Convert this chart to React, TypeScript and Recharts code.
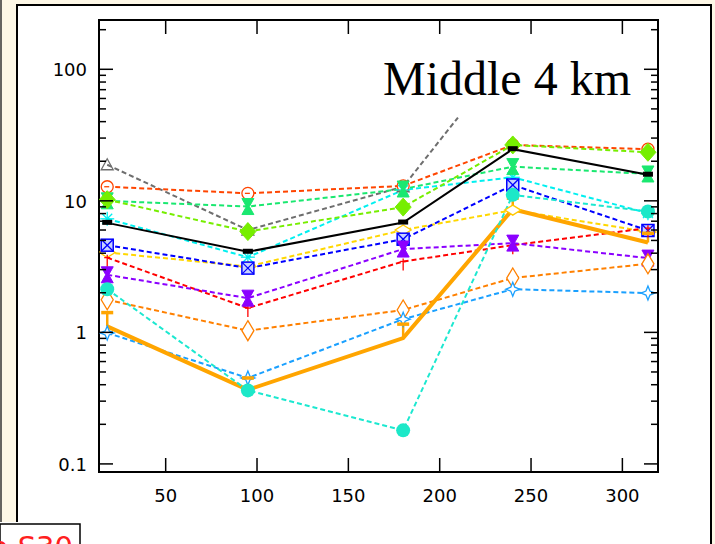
import React from 'react';
import { LineChart, Line, XAxis, YAxis, ReferenceArea, ErrorBar } from 'recharts';

// ---- data ----
const xs = [18, 95, 180, 240, 314];
const grayXs = [18, 95, 180, 210];
const grayVals = [18.8, 6.0, 12.8, 43];
const orangeRedVals = [12.8, 11.4, 13.0, 26.6, 24.7];
const lawnGreenVals = [10.2, 5.84, 8.96, 26.6, 23.4];
const springGreenVals = [10.0, 9.05, 12.3, 18.2, 16.0];
const cyanVals = [7.3, 3.73, 12.1, 15.1, 8.06];
const blackVals = [6.8, 4.1, 6.84, 24.7, 15.8];
const blueVals = [4.6, 3.08, 5.11, 13.2, 5.95];
const goldVals = [4.05, 3.17, 6.0, 8.5, 5.8];
const redVals = [3.7, 1.53, 3.46, 4.6, 6.2];
const purpleVals = [2.74, 1.82, 4.3, 4.77, 3.67];
const turquoiseVals = [2.13, 0.362, 0.18, 11.1, 8.3];
const darkOrangeVals = [1.77, 1.03, 1.48, 2.59, 3.32];
const lightBlueVals = [0.99, 0.45, 1.26, 2.13, 1.99];
const orangeVals = [1.11, 0.366, 0.905, 8.64, 4.82];
const orangeErrUp = [0.31, 0.086, 0.255, 1.9, 0.87];

const xTicks = [50, 100, 150, 200, 250, 300];
const yMajor = [0.1, 1, 10, 100];
const yMajorLabels = ['0.1', '1', '10', '100'];
const yTicks = [
  0.1, 0.2, 0.3, 0.4, 0.5, 0.6, 0.7, 0.8, 0.9,
  1, 2, 3, 4, 5, 6, 7, 8, 9,
  10, 20, 30, 40, 50, 60, 70, 80, 90,
  100, 200,
];

const xDomain: [number, number] = [13.5, 319.5];
const yDomain: [number, number] = [0.0868, 237];

// ---- layout ----
const W = 715;
const H = 544;
const PL = 99;
const PR = 658;
const PT = 20;
const PB = 472;
const CREAM = '#FDF7E6';

const mk = (vals: number[], x: number[] = xs) => vals.map((v, i) => ({ x: x[i], y: v }));

function marker(shape: string, color: string, cx: number, cy: number) {
  switch (shape) {
    case 'tri':
      return <polygon points={`${cx},${cy - 6} ${cx - 6},${cy + 5} ${cx + 6},${cy + 5}`} fill="none" stroke={color} strokeWidth={1.3} />;
    case 'circleDash':
      return (
        <g>
          <circle cx={cx} cy={cy} r={6} fill="#fff" stroke={color} strokeWidth={1.3} />
          <line x1={cx - 3} x2={cx + 2} y1={cy} y2={cy} stroke={color} strokeWidth={1.3} />
        </g>
      );
    case 'diamondFill':
      return <polygon points={`${cx},${cy - 9} ${cx + 8},${cy} ${cx},${cy + 9} ${cx - 8},${cy}`} fill={color} stroke={color} strokeWidth={1} />;
    case 'hourglass':
      return <polygon points={`${cx - 6},${cy - 8} ${cx + 6},${cy - 8} ${cx + 1.5},${cy} ${cx + 6},${cy + 8} ${cx - 6},${cy + 8} ${cx - 1.5},${cy}`} fill={color} stroke={color} strokeWidth={1} />;
    case 'asterisk':
      return (
        <g stroke={color} strokeWidth={1.3}>
          <line x1={cx} x2={cx} y1={cy - 7} y2={cy + 7} />
          <line x1={cx - 7} x2={cx + 7} y1={cy} y2={cy} />
          <line x1={cx - 5} x2={cx + 5} y1={cy - 5} y2={cy + 5} />
          <line x1={cx - 5} x2={cx + 5} y1={cy + 5} y2={cy - 5} />
        </g>
      );
    case 'bar':
      return <rect x={cx - 5} y={cy - 3} width={10} height={5} fill={color} />;
    case 'squareX':
      return (
        <g>
          <rect x={cx - 6} y={cy - 6} width={12} height={12} fill="#c8d2ff" stroke={color} strokeWidth={1.5} />
          <line x1={cx - 6} x2={cx + 6} y1={cy - 6} y2={cy + 6} stroke={color} strokeWidth={1.3} />
          <line x1={cx - 6} x2={cx + 6} y1={cy + 6} y2={cy - 6} stroke={color} strokeWidth={1.3} />
        </g>
      );
    case 'diamondWide':
      return <polygon points={`${cx},${cy - 5} ${cx + 8},${cy} ${cx},${cy + 5} ${cx - 8},${cy}`} fill="#fff" stroke={color} strokeWidth={1.3} />;
    case 'dagger':
      return (
        <g stroke={color} strokeWidth={1.3}>
          <line x1={cx} x2={cx} y1={cy - 3} y2={cy + 9} />
          <line x1={cx - 3} x2={cx + 3} y1={cy} y2={cy} />
        </g>
      );
    case 'circleFill':
      return <circle cx={cx} cy={cy} r={7} fill={color} />;
    case 'diamondTall':
      return <polygon points={`${cx},${cy - 10} ${cx + 6},${cy} ${cx},${cy + 10} ${cx - 6},${cy}`} fill="#fff" stroke={color} strokeWidth={1.3} />;
    case 'star4':
      return <polygon points={`${cx},${cy - 7} ${cx + 2},${cy - 2} ${cx + 7},${cy} ${cx + 2},${cy + 2} ${cx},${cy + 7} ${cx - 2},${cy + 2} ${cx - 7},${cy} ${cx - 2},${cy - 2}`} fill="#fff" stroke={color} strokeWidth={1.3} />;
    case 'cap':
      return <rect x={cx - 6} y={cy - 1.5} width={12} height={3.5} fill={color} />;
    default:
      return <g />;
  }
}

const makeDot = (shape: string, color: string, skip: number[] = []) => (props: any) => {
  const { cx, cy, index } = props;
  if (cx == null || cy == null || skip.includes(index)) return <g key={`d${index}`} />;
  return <g key={`d${index}`}>{marker(shape, color, cx, cy)}</g>;
};

const YTick = (props: any) => {
  const { y, payload } = props;
  const v = payload.value;
  const mi = yMajor.indexOf(v);
  const len = mi >= 0 ? 14 : 7;
  return (
    <g>
      <line x1={PL} x2={PL + len} y1={y} y2={y} stroke="#000" strokeWidth={1.5} />
      <line x1={PR - len} x2={PR} y1={y} y2={y} stroke="#000" strokeWidth={1.5} />
      {mi >= 0 && (
        <text x={87} y={y + 7} textAnchor="end" fontFamily="DejaVu Sans" fontSize={18} fill="#000">
          {yMajorLabels[mi]}
        </text>
      )}
    </g>
  );
};

const XTick = (props: any) => {
  const { x, payload } = props;
  return (
    <g>
      <line x1={x} x2={x} y1={PB} y2={PB - 14} stroke="#000" strokeWidth={1.5} />
      <line x1={x} x2={x} y1={PT} y2={PT + 14} stroke="#000" strokeWidth={1.5} />
      <text x={x} y={502} textAnchor="middle" fontFamily="DejaVu Sans" fontSize={18} fill="#000">
        {payload.value}
      </text>
    </g>
  );
};

const dash = '5 3';

export default function App() {
  const orangeData = orangeVals.map((v, i) => ({ x: xs[i], y: v, err: [0, orangeErrUp[i]] }));
  const orangeTopData = orangeVals.map((v, i) => ({ x: xs[i], y: v + orangeErrUp[i] }));
  return (
    <div style={{ position: 'absolute', left: 0, top: 0, width: W, height: H, background: CREAM, overflow: 'hidden' }}>
      <svg width={W} height={H} style={{ position: 'absolute', left: 0, top: 0 }}>
        <rect x={17} y={5} width={695} height={H} fill="#fff" />
        <rect x={0} y={522} width={17} height={30} fill="#fff" />
        <line x1={1} x2={1} y1={0} y2={522} stroke="#333" strokeWidth={1.5} />
        <line x1={17} x2={17} y1={5} y2={522} stroke="#000" strokeWidth={2} />
        <line x1={16} x2={712} y1={5} y2={5} stroke="#000" strokeWidth={2} />
        <line x1={711} x2={711} y1={4} y2={H} stroke="#000" strokeWidth={2} />
      </svg>
      <div style={{ position: 'absolute', left: 0, top: 0 }}>
        <LineChart width={W} height={H} margin={{ top: PT, right: W - PR, bottom: 42, left: 0 }}>
          <XAxis
            type="number"
            dataKey="x"
            domain={xDomain}
            allowDataOverflow
            ticks={xTicks}
            interval={0}
            tick={<XTick />}
            tickLine={false}
            axisLine={false}
            height={30}
          />
          <YAxis
            type="number"
            scale="log"
            domain={yDomain}
            allowDataOverflow
            ticks={yTicks}
            interval={0}
            tick={<YTick />}
            tickLine={false}
            axisLine={false}
            width={PL}
          />
          <ReferenceArea x1={xDomain[0]} x2={xDomain[1]} y1={yDomain[0]} y2={yDomain[1]} fill="none" fillOpacity={0} stroke="#000" strokeWidth={2} ifOverflow="visible" />
          <Line data={mk(grayVals, grayXs)} dataKey="y" stroke="#6E6E6E" strokeWidth={2} strokeDasharray={dash} dot={makeDot('tri', '#6E6E6E', [3])} activeDot={false} isAnimationActive={false} />
          <Line data={mk(orangeRedVals)} dataKey="y" stroke="#FF4500" strokeWidth={2} strokeDasharray={dash} dot={makeDot('circleDash', '#FF4500')} activeDot={false} isAnimationActive={false} />
          <Line data={mk(cyanVals)} dataKey="y" stroke="#00F0F0" strokeWidth={2} strokeDasharray={dash} dot={makeDot('asterisk', '#00F0F0')} activeDot={false} isAnimationActive={false} />
          <Line data={mk(springGreenVals)} dataKey="y" stroke="#1AE870" strokeWidth={2} strokeDasharray={dash} dot={makeDot('hourglass', '#1AE870')} activeDot={false} isAnimationActive={false} />
          <Line data={mk(lawnGreenVals)} dataKey="y" stroke="#76EE00" strokeWidth={2} strokeDasharray={dash} dot={makeDot('diamondFill', '#76EE00')} activeDot={false} isAnimationActive={false} />
          <Line data={mk(goldVals)} dataKey="y" stroke="#FFD700" strokeWidth={2} strokeDasharray={dash} dot={makeDot('diamondWide', '#FFC800')} activeDot={false} isAnimationActive={false} />
          <Line data={mk(blueVals)} dataKey="y" stroke="#0000FF" strokeWidth={2} strokeDasharray={dash} dot={makeDot('squareX', '#0000FF')} activeDot={false} isAnimationActive={false} />
          <Line data={mk(redVals)} dataKey="y" stroke="#FF0000" strokeWidth={2} strokeDasharray={dash} dot={makeDot('dagger', '#FF0000')} activeDot={false} isAnimationActive={false} />
          <Line data={mk(purpleVals)} dataKey="y" stroke="#8B00FF" strokeWidth={2} strokeDasharray={dash} dot={makeDot('hourglass', '#8B00FF')} activeDot={false} isAnimationActive={false} />
          <Line data={mk(darkOrangeVals)} dataKey="y" stroke="#FF8000" strokeWidth={2} strokeDasharray={dash} dot={makeDot('diamondTall', '#FF8000')} activeDot={false} isAnimationActive={false} />
          <Line data={mk(lightBlueVals)} dataKey="y" stroke="#1AA0FF" strokeWidth={2} strokeDasharray={dash} dot={makeDot('star4', '#1AA0FF')} activeDot={false} isAnimationActive={false} />
          <Line data={mk(blackVals)} dataKey="y" stroke="#000" strokeWidth={2} dot={makeDot('bar', '#000')} activeDot={false} isAnimationActive={false} />
          <Line data={orangeData} dataKey="y" stroke="#FFA500" strokeWidth={4} dot={false} activeDot={false} isAnimationActive={false}>
            <ErrorBar dataKey="err" direction="y" width={0} strokeWidth={2.5} stroke="#FFA500" />
          </Line>
          <Line data={orangeTopData} dataKey="y" stroke="none" strokeWidth={0} dot={makeDot('cap', '#FFA500')} activeDot={false} isAnimationActive={false} />
          <Line data={mk(turquoiseVals)} dataKey="y" stroke="#1CE8D0" strokeWidth={2} strokeDasharray={dash} dot={makeDot('circleFill', '#1CE8C8')} activeDot={false} isAnimationActive={false} />
        </LineChart>
      </div>
      <svg width={W} height={H} style={{ position: 'absolute', left: 0, top: 0, pointerEvents: 'none' }}>
        <text x={383} y={95} fontFamily="Liberation Serif" fontSize={48} fill="#000">Middle 4 km</text>
        <rect x={0} y={524} width={80} height={30} fill="#fff" stroke="#000" strokeWidth={1.5} />
        <text x={73} y={557} textAnchor="end" fontFamily="DejaVu Sans" fontSize={29} fill="#FF2020">o S30</text>
      </svg>
    </div>
  );
}
